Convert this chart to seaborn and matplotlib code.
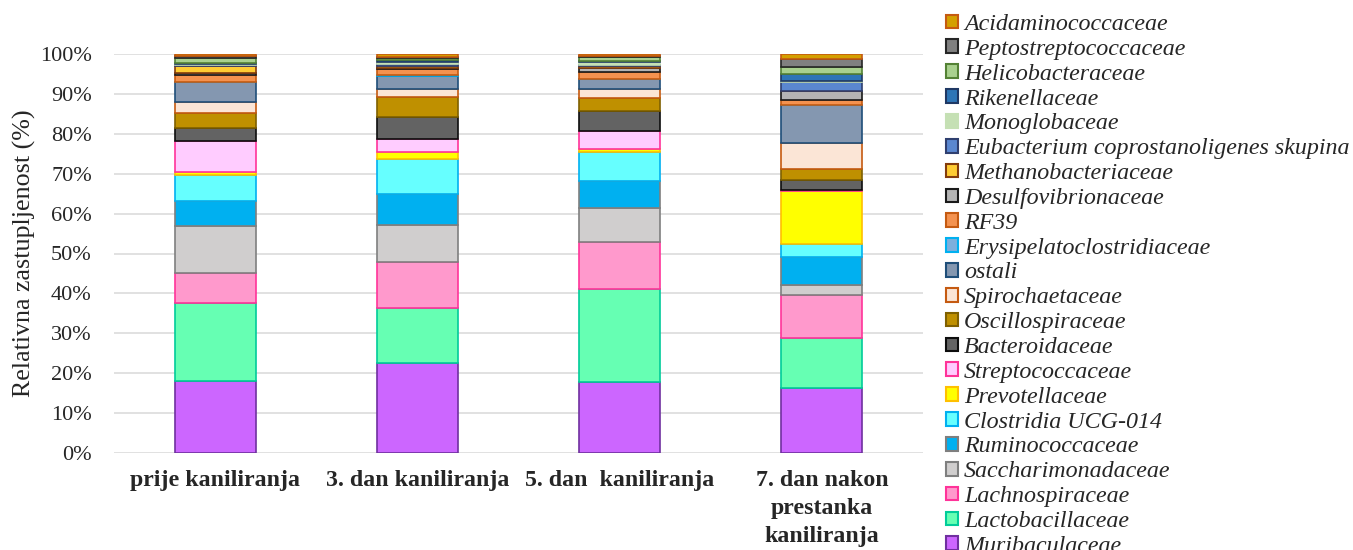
import numpy as np
import pandas as pd
import matplotlib
matplotlib.use("Agg")
import matplotlib.pyplot as plt
import seaborn as sns
from matplotlib.patches import Patch
from matplotlib.ticker import PercentFormatter

# ---------------------------------------------------------------
# DATA (relative abundance, %)
# ---------------------------------------------------------------
categories = ["prije kaniliranja", "3. dan kaniliranja", "5. dan  kaniliranja",
              "7. dan nakon\nprestanka\nkaniliranja"]

# stacking order, bottom -> top
families = ["Muribaculaceae", "Lactobacillaceae", "Lachnospiraceae", "Saccharimonadaceae",
            "Ruminococcaceae", "Clostridia UCG-014", "Prevotellaceae", "Streptococcaceae",
            "Bacteroidaceae", "Oscillospiraceae", "Spirochaetaceae", "ostali",
            "Erysipelatoclostridiaceae", "RF39", "Desulfovibrionaceae", "Methanobacteriaceae",
            "Eubacterium coprostanoligenes skupina", "Monoglobaceae", "Rikenellaceae",
            "Helicobacteraceae", "Peptostreptococcaceae", "Acidaminococcaceae"]

prije = [18.0, 19.7, 7.5, 11.8, 6.2, 6.5, 0.7, 7.9, 3.2, 3.7, 2.8, 5.0,
         0.1, 1.7, 0.5, 1.8, 0.2, 0.3, 0.2, 1.2, 0.6, 0.4]
dan3 = [22.5, 13.9, 11.4, 9.3, 7.8, 8.8, 1.8, 3.25, 5.4, 5.0, 2.1, 3.25,
        0.2, 1.5, 0.4, 0.5, 0.4, 0.5, 0.4, 0.5, 0.4, 0.7]
dan5 = [17.8, 23.4, 11.6, 8.5, 6.8, 7.4, 0.7, 4.4, 5.1, 3.2, 2.3, 2.55,
        0.1, 1.55, 1.2, 0.4, 0.3, 0.6, 0.3, 1.0, 0.4, 0.4]
dan7 = [16.4, 12.4, 10.7, 2.6, 7.1, 3.1, 13.4, 0.25, 2.5, 2.75, 6.6, 9.3,
        0.1, 1.3, 2.25, 0.05, 2.1, 0.4, 1.65, 1.9, 1.9, 1.25]

# ---------------------------------------------------------------
# STYLE
# ---------------------------------------------------------------
fills = ["#CC66FF", "#66FFB3", "#FF99CC", "#D0CECE", "#00B0F0", "#66FFFF", "#FFFF00", "#FFCCFF",
         "#636363", "#BF9000", "#FBE5D6", "#8497B0", "#7CAFDD", "#F4924F", "#B4B4B4", "#FFCC33",
         "#5A87D0", "#C5E0B4", "#2E75B6", "#A9D18E", "#808080", "#D4A000"]
edges = ["#7030A0", "#00CC99", "#FF3399", "#7F7F7F", "#7F7F7F", "#00B0F0", "#FFC000", "#FF3399",
         "#0D0D0D", "#7F6000", "#C55A11", "#1F4E79", "#00B0F0", "#C55A11", "#1A1A1A", "#843C0C",
         "#2F3F6F", "#C5E0B4", "#1F3864", "#548235", "#262626", "#C55A11"]

sns.set_style("white")
plt.rcParams['font.family'] = ['Liberation Serif', 'DejaVu Serif']

df = pd.DataFrame({c: v for c, v in zip(categories, [prije, dan3, dan5, dan7])}, index=families)
bottoms = df.cumsum() - df

fig = plt.figure(figsize=(13.53, 5.5), dpi=100)
ax = fig.add_axes([114 / 1353, 97 / 550, 809 / 1353, 399 / 550])

for fam, fc, ec in zip(families, fills, edges):
    sns.barplot(x=categories, y=df.loc[fam].values, bottom=bottoms.loc[fam].values,
                color=fc, edgecolor=ec, linewidth=1.2, width=0.4, saturation=1,
                errorbar=None, ax=ax)

ax.set_ylim(0, 100)
ax.set_xlim(-0.5, 3.5)
ax.yaxis.set_major_locator(plt.MultipleLocator(10))
ax.yaxis.set_major_formatter(PercentFormatter(xmax=100, decimals=0))
ax.yaxis.grid(True, color="#D9D9D9", linewidth=1.1)
ax.set_axisbelow(True)
sns.despine(ax=ax, left=True, bottom=True)

ax.tick_params(axis='y', labelsize=16, length=0, pad=16)
ax.tick_params(axis='x', length=0, pad=12)
ax.set_xticks(range(len(categories)))
ax.set_xticklabels(categories, fontsize=17.2, fontweight='bold', linespacing=1.45)

ax.set_xlabel("")
ax.set_ylabel("Relativna zastupljenost (%)", fontsize=18.7, labelpad=3)

handles = [Patch(facecolor=fc, edgecolor=ec, linewidth=1.5) for fc, ec in zip(fills, edges)]
fig.legend(handles[::-1], families[::-1], loc='upper left',
           bbox_to_anchor=(946 / 1353, 1 - 14 / 550), frameon=False,
           prop={'family': 'Liberation Serif', 'style': 'italic', 'size': 17.3},
           borderpad=0, borderaxespad=0, handlelength=0.5, handleheight=0.5,
           handletextpad=0.25, labelspacing=0.16)

plt.savefig("out.png", dpi=100)
